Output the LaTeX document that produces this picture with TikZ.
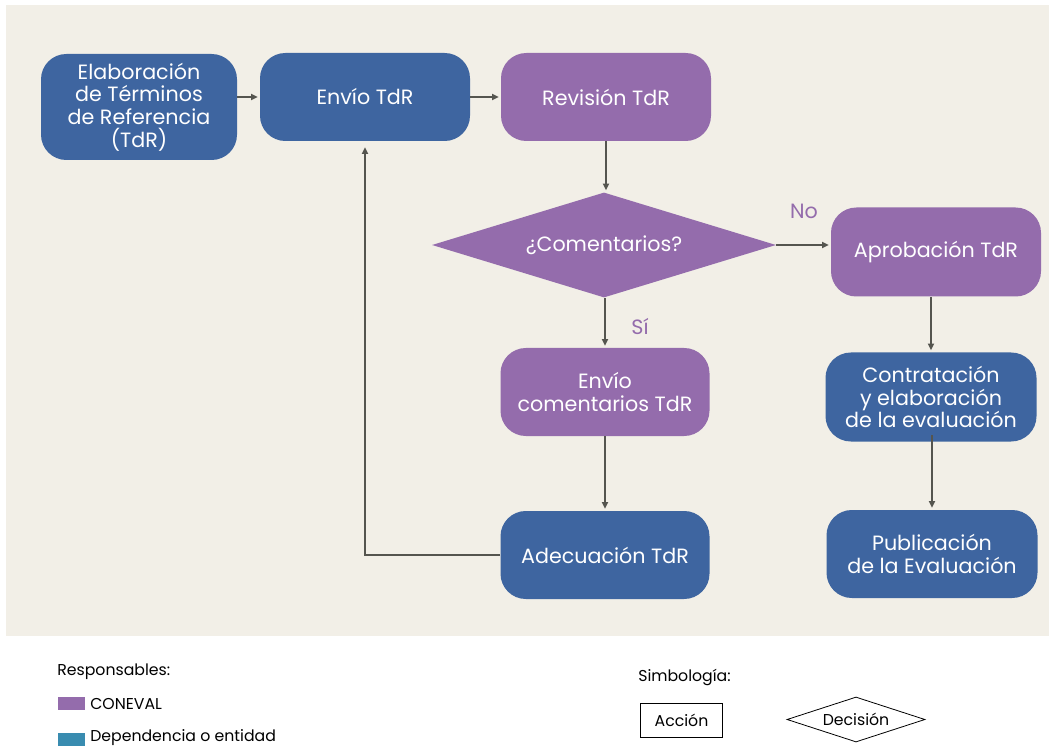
\documentclass[tikz,border=0pt]{standalone}
\usepackage{fontspec}
\setmainfont{Poppins}
\usetikzlibrary{shapes.geometric,arrows.meta,calc}
\definecolor{bgc}{HTML}{F2EFE7}
\definecolor{bluec}{HTML}{3E65A0}
\definecolor{purc}{HTML}{946CAC}
\definecolor{tealc}{HTML}{398CB0}
\definecolor{arrc}{HTML}{55554F}
\tikzset{
  box/.style={rounded corners=19pt, draw=none, text=white, align=center,
    font=\fontsize{15.5pt}{16.9pt}\selectfont, inner sep=2pt},
  bluebox/.style={box, fill=bluec},
  purbox/.style={box, fill=purc},
  arr/.style={draw=arrc, line width=1.5pt, -{Triangle[length=5pt,width=4.5pt]}, shorten >=1.5pt},
  lbl/.style={text=purc, font=\fontsize{15.5pt}{16.8pt}\selectfont},
  legtxt/.style={font=\fontsize{11.8pt}{13pt}\selectfont, text=black, anchor=west, inner sep=0pt},
}
\begin{document}
\begin{tikzpicture}[x=0.75pt,y=-0.75pt]
\useasboundingbox (0,0) rectangle (1049,748);
\fill[white] (0,0) rectangle (1049,748);
\fill[bgc] (6,5) rectangle (1049,636);

\node[bluebox, minimum width=147pt, minimum height=79.5pt] (elab) at (139,107)
  {Elaboración\\de Términos\\de Referencia\\(TdR)};
\node[bluebox, minimum width=157.5pt, minimum height=66pt] (envio) at (365,97) {Envío TdR};
\node[purbox, minimum width=157.5pt, minimum height=66pt] (rev) at (606,97) {Revisión TdR};
\node[diamond, fill=purc, text=white, minimum width=258pt, minimum height=78.75pt,
  aspect=3.28, inner sep=0pt, font=\fontsize{15.5pt}{16.8pt}\selectfont] (dec) at (604,245) {¿Comentarios?};
\node[purbox, minimum width=157.5pt, minimum height=66.75pt] (aprob) at (936,252) {Aprobación TdR};
\node[purbox, minimum width=156.75pt, minimum height=66pt] (envcom) at (605,392) {Envío\\comentarios TdR};
\node[bluebox, minimum width=156.75pt, minimum height=66pt] (adec) at (605,555) {Adecuación TdR};
\node[bluebox, minimum width=158.25pt, minimum height=66.75pt] (contr) at (931,397)
  {Contratación\\y elaboración\\de la evaluación};
\node[bluebox, minimum width=158.25pt, minimum height=66pt] (publ) at (932,554)
  {Publicación\\de la Evaluación};

\draw[arr] (elab.east |- envio.west) -- (envio.west);
\draw[arr] (envio.east) -- (rev.west);
\draw[arr] (rev.south) -- (rev.south |- dec.north);
\draw[arr] (dec.east) -- (dec.east -| aprob.west);
\draw[arr] (dec.south -| envcom.north) -- (envcom.north);
\draw[arr] (envcom.south) -- (adec.north);
\draw[arr, shorten >=4.5pt] (adec.west) -| (envio.south);
\draw[arr] (aprob.south -| contr.north) -- (contr.north);
\draw[arr] ([yshift=5pt]contr.south -| publ.north) -- (publ.north);

\node[lbl] (no) at (804,211) {No};
\node[lbl] (si) at (640,326) {Sí};

% legend
\node[legtxt] (resp) at (57,672) {Responsables:};
\fill[purc] (58,697) rectangle (85,710);
\node[legtxt] (con) at (90,704) {CONEVAL};
\fill[tealc] (58,733) rectangle (85,746);
\node[legtxt] (dep) at (90,737.5) {Dependencia o entidad};
\node[legtxt] (sim) at (638,677) {Simbología:};
\node[draw=black, line width=0.6pt, fill=white, minimum width=62pt, minimum height=25.5pt,
  font=\fontsize{11.8pt}{13pt}\selectfont, inner sep=0pt] (acc) at (681.5,720) {Acción};
\node[diamond, draw=black, line width=0.6pt, fill=white, minimum width=103.5pt, minimum height=33.75pt,
  aspect=3, inner sep=0pt, font=\fontsize{11.8pt}{13pt}\selectfont] (decl) at (856,719.5) {Decisión};
\end{tikzpicture}
\end{document}
